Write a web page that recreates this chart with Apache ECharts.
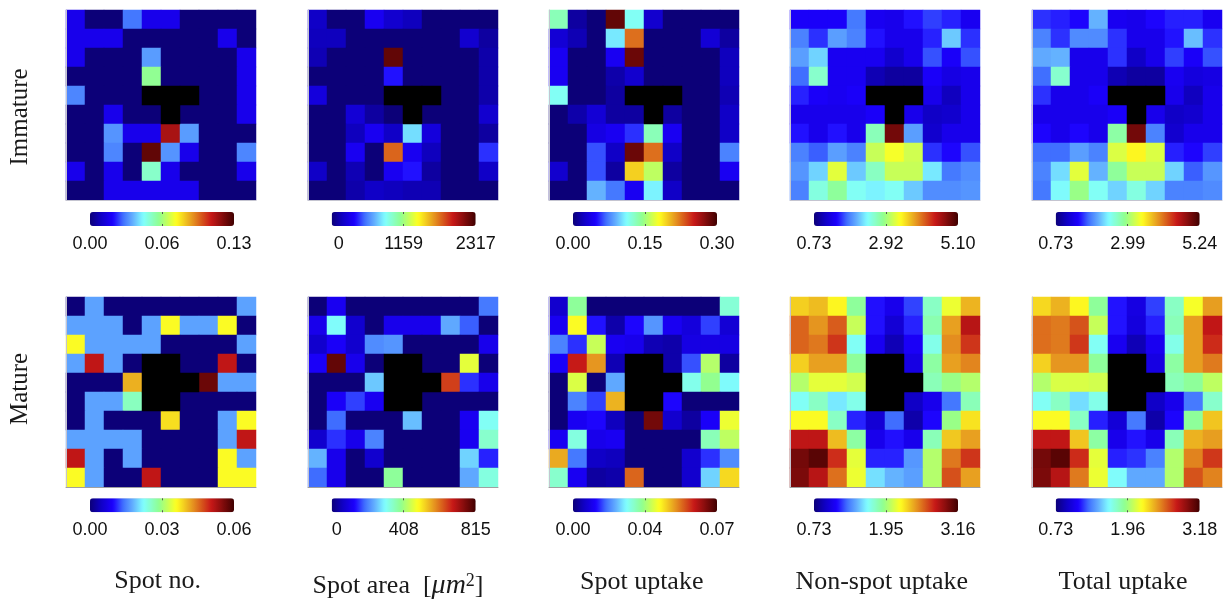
<!DOCTYPE html>
<html><head><meta charset="utf-8">
<style>html,body{margin:0;padding:0;background:#fff}#c{width:1226px;height:600px}</style>
<script src="https://cdn.jsdelivr.net/npm/echarts@6/dist/echarts.min.js"></script>
</head><body><div id="c"></div>
<script>
const N = null; // black cells: no measurement
const columnTitles = ['Spot no.', 'Spot area', 'Spot uptake', 'Non-spot uptake', 'Total uptake'];
const rowTitles = ['Immature', 'Mature'];
const jetColors = ['#0c0078','#1000c8','#1c00ff','#4070ff','#60a8ff','#80ffff','#90ff90','#ffff20','#e8a020','#c81818','#400000'];
const jetStops  = [0,0.08,0.16,0.23,0.29,0.37,0.48,0.60,0.70,0.84,1];

const immatureSpotNoTicks = ['0.00','0.06','0.13'], immatureSpotNoRange = [0,0.13];
const immatureSpotNo = [
[.017,0,0,.031,.017,.017,0,0,0,0],
[.017,.017,.017,0,0,0,0,0,.017,0],
[.017,0,0,0,.036,0,0,0,0,.017],
[0,0,0,0,.062,0,0,0,0,.017],
[.033,0,0,0,N,N,N,0,0,.017],
[0,0,.017,0,0,N,0,0,0,.017],
[0,0,.035,.017,.017,.114,.036,0,0,0],
[0,0,.033,0,.125,.035,.017,0,0,.033],
[.017,0,.017,0,.055,.017,0,0,0,.017],
[0,0,.017,.017,.017,.017,.017,0,0,0]];

const immatureSpotAreaTicks = ['0','1159','2317'], immatureSpotAreaRange = [0,2317];
const immatureSpotArea = [
[185,0,0,324,209,162,0,0,0,0],
[162,162,0,0,0,0,0,0,209,93],
[139,0,0,0,2224,0,0,0,0,116],
[0,0,0,0,394,0,0,0,0,116],
[255,0,0,0,N,N,N,0,0,116],
[0,0,232,93,0,N,0,0,0,209],
[0,0,162,324,185,788,255,0,0,93],
[0,0,324,0,1761,324,162,0,0,440],
[185,0,139,0,324,394,93,0,0,185],
[0,0,116,185,162,139,139,0,0,0]];

const immatureSpotUptakeTicks = ['0.00','0.15','0.30'], immatureSpotUptakeRange = [0,0.30];
const immatureSpotUptake = [
[.132,.012,0,.288,.114,.027,0,0,0,0],
[.030,.018,0,.105,.225,0,0,0,.030,.012],
[.042,0,0,.042,.285,0,0,0,0,.021],
[.042,0,0,.015,.027,0,0,0,0,.021],
[.114,0,0,.012,N,N,N,0,0,.018],
[0,.015,.030,.012,.012,N,.012,0,0,.024],
[0,0,.036,.042,.057,.132,.042,0,0,.024],
[0,0,.063,.024,.285,.225,.024,0,0,.075],
[.027,0,.063,.012,.195,.159,.012,0,0,.042],
[0,0,.090,.072,.042,.108,.024,0,0,0]];

const immatureNonSpotTicks = ['0.73','2.92','5.10'], immatureNonSpotRange = [0.73,5.10];
const immatureNonSpot = [
[1.39,1.39,1.39,1.78,1.34,1.30,1.47,1.60,1.52,1.34],
[1.82,1.56,1.95,1.82,1.47,1.30,1.30,1.52,2.13,1.56],
[1.95,2.17,1.34,1.34,1.34,1.12,1.30,1.65,1.39,1.65],
[1.74,2.57,1.34,1.34,.99,.90,.90,1.39,1.25,1.30],
[1.52,1.39,1.34,1.39,N,N,N,1.30,1.04,1.30],
[1.30,1.30,1.30,1.30,1.39,N,1.30,1.08,1.12,1.30],
[1.47,1.30,1.47,1.30,2.65,4.84,1.95,1.12,1.30,1.30],
[1.82,1.69,1.95,1.82,3.09,3.31,3.13,1.56,1.43,1.65],
[1.91,2.17,3.22,2.13,2.61,3.09,3.09,2.26,1.78,1.87],
[1.82,2.48,2.78,2.39,2.30,2.39,2.13,1.87,1.87,1.91]];

const immatureTotalTicks = ['0.73','2.99','5.24'], immatureTotalRange = [0.73,5.24];
const immatureTotal = [
[1.59,1.54,1.45,2.08,1.36,1.32,1.45,1.54,1.54,1.36],
[1.86,1.59,1.90,1.90,1.59,1.32,1.32,1.50,2.13,1.59],
[2.04,2.08,1.32,1.32,1.59,1.09,1.32,1.63,1.41,1.68],
[1.77,2.62,1.32,1.32,1.00,.91,.91,1.36,1.23,1.27],
[1.59,1.32,1.32,1.41,N,N,N,1.32,1.05,1.32],
[1.32,1.32,1.32,1.32,1.41,N,1.32,1.09,1.14,1.32],
[1.45,1.32,1.45,1.32,2.80,4.97,1.86,1.14,1.32,1.32],
[1.77,1.77,1.99,1.86,3.26,3.48,3.26,1.54,1.45,1.63],
[1.86,2.26,3.30,2.08,2.85,3.17,3.17,2.22,1.72,1.95],
[1.81,2.40,2.94,2.44,2.22,2.53,2.22,1.86,1.86,1.90]];

const matureSpotNoTicks = ['0.00','0.03','0.06'], matureSpotNoRange = [0,0.06];
const matureSpotNo = [
[0,.017,0,0,0,0,0,0,0,.017],
[.017,.017,.017,0,.017,.036,.017,.017,.036,0],
[.036,.017,.017,.017,.017,0,0,0,0,.017],
[.017,.051,.017,0,N,N,0,0,.051,0],
[0,0,0,.041,N,N,N,.057,.017,.017],
[0,.017,.017,.026,N,N,0,0,0,0],
[0,.017,0,0,0,.038,0,0,.017,.036],
[.017,.017,.017,.017,0,0,0,0,.017,.051],
[.051,.017,0,.017,0,0,0,0,.036,.017],
[.036,.017,0,0,.051,0,0,0,.036,.036]];

const matureSpotAreaTicks = ['0','408','815'], matureSpotAreaRange = [0,815];
const matureSpotArea = [
[0,114,0,0,0,0,0,0,0,196],
[106,302,73,0,106,106,106,236,179,0],
[73,122,73,212,220,0,0,0,0,106],
[122,782,106,0,N,N,0,0,465,0],
[0,0,0,261,N,N,N,652,155,106],
[0,122,163,114,N,N,0,0,0,0],
[0,187,0,0,0,253,0,0,114,310],
[73,155,106,204,0,0,0,0,114,342],
[245,106,0,73,0,0,0,0,269,147],
[187,106,0,0,383,0,0,0,236,326]];

const matureSpotUptakeTicks = ['0.00','0.04','0.07'], matureSpotUptakeRange = [0,0.07];
const matureSpotUptake = [
[.0063,.0329,0,0,0,0,0,0,0,.0287],
[.0098,.042,.0119,.0035,.0112,.0189,.0098,.0077,.014,.007],
[.0175,.0133,.0378,.0098,.0091,.0042,.0035,.0084,.0084,.0084],
[.0105,.0588,.0497,.0042,N,N,.0035,.0147,.0364,.0028],
[0,.0392,0,.0203,N,N,N,.0273,.0336,.0259],
[0,.0175,.014,.0476,N,N,.0112,0,0,0],
[0,.0098,.0112,.0049,0,.0658,.0063,.0028,.0105,.0406],
[.0098,.028,.0091,.0098,0,0,0,0,.0308,.0371],
[.0483,.0168,.0056,.0049,0,0,0,.0063,.0133,.0182],
[.0294,.0098,.0028,.0035,.0532,0,0,.0063,.0231,.0448]];

const matureNonSpotTicks = ['0.73','1.95','3.16'], matureNonSpotRange = [0.73,3.16];
const matureNonSpot = [
[2.31,2.36,2.21,1.87,1.14,1.05,1.22,1.77,2.14,2.38],
[2.58,2.46,2.60,2.04,1.14,.97,1.17,1.82,2.43,2.82],
[2.58,2.53,2.70,1.65,1.07,.88,1.09,1.68,2.48,2.70],
[2.31,2.43,2.43,1.87,N,N,1.02,1.85,2.43,2.50],
[1.99,2.12,2.12,2.07,N,N,N,1.80,1.92,1.99],
[1.65,1.77,1.58,1.68,N,N,.92,1.05,1.31,1.80],
[2.19,2.19,1.77,1.17,.97,1.29,.85,1.12,1.92,2.26],
[2.80,2.80,2.36,1.85,1.05,1.14,1.05,1.80,2.33,2.43],
[3.01,3.09,2.72,2.12,1.17,1.17,1.39,1.99,2.53,2.70],
[2.99,2.82,2.55,2.14,1.56,1.46,1.41,1.99,2.63,2.43]];

const matureTotalTicks = ['0.73','1.96','3.18'], matureTotalRange = [0.73,3.18];
const matureTotal = [
[2.30,2.40,2.22,1.88,1.15,1.02,1.22,1.78,2.18,2.45],
[2.57,2.54,2.64,2.05,1.15,1.00,1.17,1.81,2.45,2.81],
[2.57,2.54,2.71,1.66,1.07,.88,1.07,1.69,2.45,2.74],
[2.32,2.47,2.47,1.88,N,N,1.02,1.86,2.45,2.54],
[2.00,2.10,2.10,2.08,N,N,N,1.81,1.88,2.03],
[1.66,1.78,1.56,1.69,N,N,.93,1.05,1.32,1.76],
[2.20,2.20,1.78,1.17,.98,1.32,.85,1.12,1.88,2.35],
[2.81,2.81,2.35,1.86,1.05,1.15,1.05,1.81,2.40,2.45],
[3.03,3.11,2.74,2.13,1.17,1.20,1.34,2.00,2.52,2.71],
[3.01,2.84,2.54,2.15,1.64,1.44,1.44,2.00,2.64,2.52]];

const panels = [
 [immatureSpotNo,immatureSpotNoRange,immatureSpotNoTicks],
 [immatureSpotArea,immatureSpotAreaRange,immatureSpotAreaTicks],
 [immatureSpotUptake,immatureSpotUptakeRange,immatureSpotUptakeTicks],
 [immatureNonSpot,immatureNonSpotRange,immatureNonSpotTicks],
 [immatureTotal,immatureTotalRange,immatureTotalTicks],
 [matureSpotNo,matureSpotNoRange,matureSpotNoTicks],
 [matureSpotArea,matureSpotAreaRange,matureSpotAreaTicks],
 [matureSpotUptake,matureSpotUptakeRange,matureSpotUptakeTicks],
 [matureNonSpot,matureNonSpotRange,matureNonSpotTicks],
 [matureTotal,matureTotalRange,matureTotalTicks]];

/* layout: integer cell sizes keep neighbouring cells free of anti-aliased seams */
const heatLeft = [66,308,549,790,1032], heatSize = 190, heatTop = [10,297];
const cbLeftPos = [90,331.7,573,814,1055.7], cbTopPos = [212,498.3], cbLen = 144, cbThick = 14;
const idx = [0,1,2,3,4,5,6,7,8,9].map(String);
const jet = jetStops.map((s,i)=>[s,jetColors[i]]);
function hex(c){return [1,3,5].map(k=>parseInt(c.substr(k,2),16));}
function jetAt(t){for(let i=1;i<jet.length;i++){if(t<=jet[i][0]){const f=(t-jet[i-1][0])/(jet[i][0]-jet[i-1][0]),a=hex(jet[i-1][1]),b=hex(jet[i][1]);return 'rgb('+a.map((v,k)=>Math.round(v+(b[k]-v)*f)).join(',')+')';}}return jet[jet.length-1][1];}
const palette=[];for(let i=0;i<=64;i++)palette.push(jetAt(i/64));

const grid=[],xAxis=[],yAxis=[],series=[],visualMap=[];const maskIdx=[];
panels.forEach((p,i)=>{
  const col=i%5,row=Math.floor(i/5),[vals,range,ticks]=p;
  const left=heatLeft[col],top=heatTop[row];
  const cbLeft=cbLeftPos[col],cbTop=cbTopPos[row];
  const gH=grid.length;
  grid.push({left,top,width:heatSize,height:heatSize,containLabel:false});
  const gC=grid.length;
  grid.push({left:cbLeft,top:cbTop,width:cbLen,height:cbThick});
  const xH=xAxis.length;
  xAxis.push({type:'category',gridIndex:gH,data:idx,z:6,axisLabel:{show:false},axisTick:{show:false},splitLine:{show:false},
    axisLine:{show:true,lineStyle:{color:row?'#a0a0a0':'#c4c4d0',width:1}}});
  const mid=(range[0]+range[1])/2;
  const pad=ticks[0]==='0'?(row?10:14):0;
  xAxis.push({type:'value',gridIndex:gC,min:range[0],max:range[1],position:'bottom',z:6,splitLine:{show:false},
    axisLine:{show:false},
    axisTick:{show:true,inside:true,length:2,customValues:[mid],lineStyle:{color:'#555',width:1}},
    axisLabel:{show:true,customValues:[range[0],mid,range[1]],margin:9,color:'#111',fontFamily:'Liberation Sans',fontSize:18,
      formatter:(v)=>{const k=v===range[0]?0:(v===range[1]?2:1);return pad&&k===0?'{z|'+ticks[k]+'}':ticks[k];},
      rich:{z:{padding:[0,0,0,pad],fontFamily:'Liberation Sans',fontSize:18,color:'#111'}}}});
  xAxis.push({type:'value',gridIndex:gC,min:range[0],max:range[1],position:'top',z:6,splitLine:{show:false},
    axisLine:{show:false},axisLabel:{show:false},
    axisTick:{show:true,inside:true,length:2,customValues:[mid],lineStyle:{color:'#555',width:1}}});
  const yH=yAxis.length;
  yAxis.push({type:'category',gridIndex:gH,data:idx,inverse:true,z:6,axisLabel:{show:false},axisTick:{show:false},splitLine:{show:false},
    axisLine:{show:true,lineStyle:{color:'#c4c4d0',width:1}}});
  yAxis.push({type:'value',gridIndex:gC,min:0,max:1,show:false});
  const cells=[],mask=[];
  vals.forEach((r,ry)=>r.forEach((v,cx)=>{ if(v===N) mask.push([cx,ry,1]); else cells.push([cx,ry,v]); }));
  const sMain=series.length;
  series.push({type:'heatmap',xAxisIndex:xH,yAxisIndex:yH,data:cells,silent:true,itemStyle:{borderWidth:0},emphasis:{disabled:true}});
  maskIdx.push(series.length);
  series.push({type:'heatmap',xAxisIndex:xH,yAxisIndex:yH,data:mask,silent:true,itemStyle:{borderWidth:0},emphasis:{disabled:true}});
  visualMap.push({type:'continuous',seriesIndex:sMain,min:range[0],max:range[1],dimension:2,orient:'horizontal',
    left:cbLeft,top:cbTop,itemWidth:cbThick,itemHeight:cbLen,padding:0,calculable:false,realtime:false,text:null,
    showLabel:false,hoverLink:false,inRange:{color:palette},z:4});
});
visualMap.push({type:'continuous',show:false,seriesIndex:maskIdx,min:0,max:1,dimension:2,inRange:{color:['#000','#000']}});

const serif='"Liberation Serif"';
function label(text,x,y,rot,size,extra){return {type:'text',x,y,rotation:rot||0,z:10,
  style:Object.assign({text,font:size+'px '+serif,fill:'#1a1a1a',align:'center',verticalAlign:'middle'},extra||{})};}
const graphic=[
  label(rowTitles[0],20,117,Math.PI/2,25),
  label(rowTitles[1],20,389,Math.PI/2,25),
  label(columnTitles[0],157.7,581,0,26),
  label('{a|'+columnTitles[1]+'  [}{b|μm}{c|2}{a|]}',398,586,0,26,{rich:{
     a:{font:'26px '+serif,fill:'#1a1a1a'},
     b:{font:'italic 28px '+serif,fill:'#1a1a1a'},
     c:{font:'18px '+serif,fill:'#1a1a1a',verticalAlign:'top',lineHeight:24}}}),
  label(columnTitles[2],641.7,582,0,26),
  label(columnTitles[3],881.7,582,0,26),
  label(columnTitles[4],1123,582,0,26)
];
const chart=echarts.init(document.getElementById('c'),null,{renderer:'canvas'});
chart.setOption({animation:false,backgroundColor:'#fff',tooltip:{show:false},grid,xAxis,yAxis,series,visualMap,graphic});
</script></body></html>
